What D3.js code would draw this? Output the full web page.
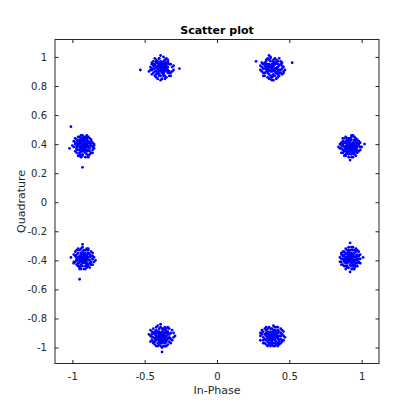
<!DOCTYPE html>
<html><head><meta charset="utf-8">
<script src="https://cdn.jsdelivr.net/npm/d3@7/dist/d3.min.js"></script>
<style>body{margin:0;background:#fff}svg{display:block}text{font-family:"DejaVu Sans",sans-serif}</style>
</head><body><svg id="c" width="420" height="420"></svg>
<script>
// Symbol clusters (x, y)
const clusterA = [[.38,.95],[.36,.91],[.41,.92],[.33,.94],[.39,.88],[.42,.93],[.37,.97],[.35,.90],[.44,.91],[.40,.95],[.34,.92],[.38,.86],[.39,.94],[.31,.96],[.41,.89],[.36,.93],[.43,.91],[.37,.99],[.40,.90],[.35,.92],[.46,.89],[.38,.94],[.33,.96],[.39,.87],[.36,.93],[.42,.91],[.41,.98],[.32,.92],[.37,.90],[.40,.95],[.38,.84],[.34,.93],[.45,.94],[.36,.88],[.39,.97],[.41,.92],[.35,.91],[.43,.89],[.37,.94],[.27,.97],[.40,.90],[.38,.87],[.42,.93],[.36,.95],[.33,.92],[.39,.98],[.44,.91],[.35,.94],[.41,.89],[.37,.85],[.38,.93],[.40,.96],[.32,.92],[.42,.90],[.36,1.01],[.39,.91],[.34,.95],[.52,.96],[.37,.94],[.41,.92],[.38,.92],[.39,.93],[.37,.91],[.40,.92],[.36,.94],[.38,.90],[.39,.95],[.37,.93],[.35,.89],[.42,.95],
  [.44,.97],[.32,.87],[.45,.88],[.31,.90],[.43,.99],[.34,.98],[.46,.93],[.30,.94],[.42,.86],[.35,.86],[.44,.95],[.33,.89],[.40,.99],[.36,.85],[.47,.91],[.31,.93],[.43,.87],[.34,.97],[.41,.85],[.37,1.00],[.45,.96],[.32,.95],[.39,.84],[.44,.89],[.35,.99],[.42,.97],[.33,.87],[.46,.90],[.30,.91],[.40,.87],[.36,.98],[.43,.94],[.34,.90],[.41,.96],[.37,.87],[.45,.92],[.32,.89],[.39,.96],[.35,.95],[.42,.88]];
const clusterB = [[.93,.36],[.90,.40],[.94,.41],[.89,.35],[.92,.39],[.96,.37],[.91,.33],[.88,.38],[.95,.42],[.92,.36],[.90,.37],[.97,.40],[.93,.43],[.87,.36],[.94,.38],[.91,.41],[.99,.36],[.92,.34],[.89,.42],[.95,.39],[.90,.38],[.93,.31],[.86,.39],[.96,.35],[.92,.44],[.91,.37],[.94,.36],[.88,.41],[.97,.38],[.93,.40],[.90,.34],[.95,.43],[.92,.37],[.84,.38],[.93,.39],[.91,.42],[.96,.41],[.89,.37],[.94,.34],[.92,.40],[.98,.39],[.90,.36],[.93,.46],[.87,.40],[.95,.37],[.91,.35],[.92,.41],[.94,.39],[.89,.33],[.96,.43],[1.00,.38],[.91,.39],[.93,.37],[.88,.36],[.95,.40],[.92,.29],[.90,.42],[.94,.37],[.91,.38],[.93,.35],[.89,.39],[.96,.38],[.92,.38],[.87,.44],[.93,.38],[.94,.40],[.90,.39],[.92,.42],[.95,.36],[1.02,.40],
  [.97,.43],[.86,.34],[.98,.35],[.87,.42],[.95,.45],[.88,.32],[.99,.41],[.85,.37],[.96,.32],[.89,.45],[.94,.31],[.90,.44],[.97,.34],[.86,.41],[.98,.42],[.88,.35],[.93,.45],[.91,.31],[.99,.38],[.85,.40],[.96,.44],[.89,.32],[.94,.46],[.87,.34],[.97,.36],[.90,.43],[.95,.33],[.88,.44],[.98,.40],[.86,.37],[.93,.33],[.91,.44],[.96,.39],[.89,.41],[.94,.35],[.92,.43],[.97,.41],[.87,.39],[.95,.34],[.90,.35]];
const clusterC = [[.91,-.37],[.94,-.39],[.89,-.40],[.93,-.35],[.96,-.38],[.90,-.42],[.92,-.36],[.95,-.41],[.88,-.37],[.93,-.39],[.91,-.34],[.97,-.37],[.94,-.43],[.90,-.38],[.92,-.40],[.86,-.36],[.95,-.35],[.93,-.38],[.89,-.44],[.96,-.40],[.91,-.39],[.94,-.33],[.92,-.37],[.88,-.41],[.97,-.42],[.90,-.36],[.93,-.41],[.95,-.38],[.91,-.31],[.92,-.43],[.99,-.39],[.89,-.38],[.94,-.36],[.90,-.40],[.93,-.46],[.87,-.39],[.96,-.37],[.92,-.35],[.91,-.41],[.95,-.43],[.88,-.34],[.93,-.37],[.90,-.39],[.94,-.40],[.92,-.28],[.97,-.36],[.89,-.42],[.93,-.39],[.91,-.36],[.95,-.40],[.92,-.38],[.86,-.41],[.94,-.38],[.90,-.35],[.93,-.42],[.98,-.39],[.91,-.38],[.92,-.41],[.95,-.37],[.89,-.39],[.93,-.36],[.90,-.44],[.94,-.41],[.92,-.39],[.88,-.39],[.96,-.34],[.91,-.40],[1.01,-.38],[.93,-.33],[.92,-.48],
  [.97,-.33],[.86,-.43],[.98,-.41],[.87,-.34],[.95,-.45],[.88,-.44],[.99,-.36],[.85,-.38],[.96,-.44],[.89,-.32],[.94,-.46],[.90,-.33],[.97,-.44],[.86,-.35],[.98,-.34],[.88,-.40],[.93,-.31],[.91,-.45],[.99,-.42],[.85,-.41],[.96,-.32],[.89,-.46],[.94,-.31],[.87,-.43],[.97,-.40],[.90,-.45],[.95,-.33],[.88,-.36],[.98,-.37],[.86,-.39],[.93,-.44],[.91,-.33],[.96,-.42],[.89,-.35],[.94,-.44],[.92,-.33],[.97,-.39],[.87,-.37],[.95,-.46],[.90,-.41]];
const clusterD = [[.39,-.91],[.36,-.94],[.40,-.89],[.37,-.95],[.42,-.92],[.35,-.90],[.38,-.96],[.41,-.93],[.34,-.92],[.39,-.88],[.37,-.93],[.43,-.95],[.36,-.91],[.40,-.97],[.38,-.90],[.32,-.93],[.41,-.91],[.39,-.94],[.35,-.96],[.44,-.90],[.37,-.92],[.40,-.86],[.38,-.95],[.33,-.91],[.42,-.94],[.36,-.98],[.39,-.92],[.41,-.89],[.37,-.94],[.34,-.88],[.40,-.93],[.38,-.91],[.45,-.96],[.36,-.93],[.39,-.99],[.42,-.90],[.35,-.94],[.38,-.92],[.40,-.95],[.30,-.92],[.37,-.89],[.41,-.96],[.39,-.90],[.36,-.95],[.43,-.92],[.38,-.87],[.34,-.95],[.40,-.91],[.37,-.97],[.42,-.93],[.39,-.94],[.35,-.91],[.38,-.93],[.46,-.92],[.36,-.90],[.40,-.94],[.37,-.92],[.33,-.97],[.41,-.91],[.38,-.98],[.39,-.93],[.36,-.92],[.44,-.94],[.37,-.90],[.40,-.92],[.35,-.93],[.38,-.94],[.42,-.97],[.39,-.89],[.31,-.90],
  [.44,-.87],[.32,-.97],[.45,-.95],[.31,-.88],[.43,-.98],[.34,-.86],[.46,-.89],[.30,-.95],[.42,-.86],[.35,-.99],[.44,-.97],[.33,-.87],[.40,-.99],[.36,-.86],[.47,-.93],[.31,-.91],[.43,-.89],[.34,-.98],[.41,-.86],[.37,-.99],[.45,-.91],[.32,-.89],[.39,-.85],[.44,-.92],[.35,-.87],[.42,-.99],[.33,-.94],[.46,-.95],[.30,-.90],[.40,-.88],[.36,-.97],[.43,-.96],[.34,-.90],[.41,-.98],[.37,-.87],[.45,-.88],[.32,-.95],[.39,-.97],[.35,-.89],[.42,-.88]];
const clusterE = [[-.37,-.93],[-.40,-.90],[-.36,-.95],[-.39,-.92],[-.35,-.89],[-.41,-.94],[-.38,-.97],[-.34,-.91],[-.42,-.92],[-.37,-.88],[-.39,-.95],[-.33,-.93],[-.40,-.96],[-.36,-.90],[-.43,-.91],[-.38,-.93],[-.35,-.96],[-.41,-.89],[-.37,-.94],[-.39,-.99],[-.44,-.93],[-.36,-.92],[-.38,-.87],[-.32,-.94],[-.40,-.91],[-.37,-.96],[-.42,-.95],[-.35,-.92],[-.39,-.90],[-.38,-.94],[-.46,-.92],[-.36,-.97],[-.40,-.93],[-.34,-.89],[-.38,-.91],[-.41,-.97],[-.37,-.92],[-.43,-.94],[-.39,-.86],[-.36,-.94],[-.38,-1.00],[-.40,-.92],[-.35,-.90],[-.42,-.93],[-.37,-.95],[-.39,-.91],[-.33,-.96],[-.41,-.92],[-.38,-.89],[-.36,-.93],[-.40,-.98],[-.37,-.90],[-.44,-.96],[-.39,-.94],[-.35,-.93],[-.38,-.92],[-.41,-.90],[-.36,-.99],[-.38,-.95],[-.29,-.92],[-.40,-.89],[-.37,-.91],[-.39,-.96],[-.42,-.90],[-.36,-.88],[-.38,-.96],[-.45,-.89],[-.34,-.94],[-.40,-.94],[-.38,-1.03],
  [-.44,-.87],[-.32,-.97],[-.45,-.95],[-.31,-.88],[-.43,-.98],[-.34,-.86],[-.46,-.96],[-.30,-.93],[-.42,-.86],[-.35,-.99],[-.44,-.90],[-.33,-.87],[-.40,-.87],[-.36,-.99],[-.47,-.91],[-.31,-.95],[-.43,-.89],[-.34,-.98],[-.41,-.85],[-.37,-.99],[-.45,-.93],[-.32,-.90],[-.39,-.84],[-.44,-.97],[-.35,-.87],[-.42,-.99],[-.33,-.91],[-.46,-.88],[-.30,-.90],[-.40,-.95],[-.36,-.86],[-.43,-.96],[-.34,-.90],[-.41,-.99],[-.37,-.87],[-.45,-.91],[-.32,-.94],[-.39,-.97],[-.35,-.95],[-.42,-.88]];
const clusterF = [[-.93,-.37],[-.90,-.39],[-.94,-.36],[-.91,-.41],[-.95,-.38],[-.89,-.35],[-.92,-.40],[-.96,-.42],[-.88,-.38],[-.93,-.34],[-.91,-.37],[-.97,-.39],[-.90,-.43],[-.94,-.40],[-.92,-.36],[-.86,-.39],[-.95,-.41],[-.93,-.38],[-.89,-.33],[-.91,-.42],[-.98,-.37],[-.92,-.39],[-.94,-.44],[-.90,-.36],[-.93,-.40],[-.87,-.41],[-.96,-.35],[-.91,-.38],[-.94,-.37],[-.92,-.46],[-.89,-.40],[-.95,-.39],[-.93,-.42],[-.90,-.32],[-.97,-.38],[-.92,-.37],[-.88,-.42],[-.94,-.39],[-.91,-.35],[-.99,-.41],[-.93,-.36],[-.90,-.40],[-.95,-.44],[-.92,-.38],[-.86,-.37],[-.94,-.41],[-.91,-.39],[-.93,-.29],[-.96,-.38],[-.89,-.43],[-.92,-.41],[-.94,-.35],[-.90,-.38],[-.93,-.39],[-.88,-.36],[-.95,-.37],[-.91,-.44],[-.97,-.40],[-.92,-.35],[-.93,-.41],[-.90,-.37],[-.94,-.38],[-1.01,-.38],[-.91,-.40],[-.95,-.53],[-.89,-.38],[-.95,-.40],[-.93,-.37],[-.84,-.40],[-.92,-.39],
  [-.97,-.33],[-.86,-.43],[-.98,-.41],[-.87,-.34],[-.95,-.45],[-.88,-.45],[-.99,-.36],[-.85,-.38],[-.96,-.44],[-.89,-.32],[-.94,-.46],[-.90,-.33],[-.97,-.43],[-.86,-.35],[-.98,-.34],[-.88,-.40],[-.93,-.31],[-.91,-.46],[-.99,-.42],[-.85,-.41],[-.96,-.32],[-.89,-.44],[-.94,-.32],[-.87,-.43],[-.97,-.40],[-.90,-.45],[-.95,-.33],[-.88,-.36],[-.98,-.37],[-.86,-.39],[-.93,-.44],[-.91,-.33],[-.96,-.42],[-.89,-.35],[-.94,-.43],[-.92,-.33],[-.97,-.36],[-.87,-.37],[-.95,-.46],[-.90,-.42]];
const clusterG = [[-.91,.39],[-.94,.37],[-.90,.41],[-.93,.35],[-.89,.38],[-.95,.40],[-.92,.43],[-.96,.36],[-.88,.39],[-.93,.42],[-.91,.34],[-.97,.38],[-.90,.36],[-.94,.44],[-.92,.37],[-.87,.40],[-.95,.33],[-.93,.39],[-.89,.42],[-.91,.38],[-.98,.41],[-.92,.35],[-.94,.39],[-.90,.46],[-.93,.37],[-.86,.36],[-.96,.40],[-.91,.42],[-.94,.35],[-.92,.40],[-.89,.31],[-.95,.38],[-.93,.44],[-.90,.39],[-.97,.36],[-.92,.41],[-.88,.37],[-.94,.42],[-.91,.36],[-1.00,.39],[-.93,.40],[-.90,.33],[-.95,.43],[-.92,.38],[-.87,.43],[-.94,.37],[-.91,.40],[-.93,.32],[-.96,.42],[-.89,.39],[-.92,.36],[-.94,.41],[-.90,.38],[-.93,.37],[-.88,.41],[-.95,.36],[-.91,.45],[-.97,.39],[-.92,.39],[-.93,.43],[-.90,.40],[-.94,.38],[-1.02,.37],[-.91,.37],[-1.01,.52],[-.93,.24],[-.89,.36],[-.95,.41],[-.85,.39],[-.92,.42],
  [-.97,.43],[-.86,.34],[-.98,.35],[-.87,.42],[-.95,.45],[-.88,.33],[-.99,.42],[-.85,.37],[-.96,.32],[-.89,.45],[-.94,.31],[-.90,.44],[-.97,.34],[-.86,.41],[-.98,.44],[-.88,.35],[-.93,.46],[-.91,.31],[-.99,.38],[-.85,.40],[-.96,.45],[-.89,.32],[-.94,.46],[-.87,.34],[-.97,.37],[-.90,.43],[-.95,.34],[-.88,.44],[-.98,.40],[-.86,.38],[-.93,.33],[-.91,.44],[-.96,.39],[-.89,.41],[-.94,.35],[-.92,.45],[-.97,.41],[-.87,.39],[-.95,.32],[-.90,.35]];
const clusterH = [[-.39,.91],[-.36,.93],[-.40,.95],[-.37,.89],[-.41,.92],[-.35,.94],[-.38,.90],[-.42,.96],[-.34,.91],[-.39,.93],[-.37,.97],[-.43,.90],[-.36,.92],[-.40,.88],[-.38,.94],[-.33,.95],[-.41,.91],[-.39,.87],[-.35,.93],[-.44,.94],[-.37,.91],[-.40,.99],[-.38,.92],[-.34,.89],[-.42,.93],[-.36,.96],[-.39,.90],[-.41,.94],[-.37,.93],[-.45,.91],[-.38,.85],[-.35,.91],[-.40,.93],[-.36,.98],[-.43,.92],[-.38,.96],[-.33,.90],[-.39,.92],[-.41,.89],[-.37,.95],[-.40,.91],[-.35,.96],[-.42,.90],[-.38,.93],[-.36,.87],[-.44,.92],[-.39,.95],[-.37,.92],[-.41,.97],[-.34,.93],[-.38,.91],[-.40,.94],[-.36,.90],[-.39,1.01],[-.43,.95],[-.37,.94],[-.38,.89],[-.35,.92],[-.41,.93],[-.39,.96],[-.38,.91],[-.36,.95],[-.40,.90],[-.53,.91],[-.26,.92],[-.42,.98],[-.37,.88],[-.39,.94],[-.34,.96],[-.45,.95],
  [-.44,.97],[-.32,.87],[-.45,.88],[-.31,.90],[-.43,.99],[-.34,.98],[-.46,.93],[-.30,.94],[-.42,.86],[-.35,.86],[-.44,.95],[-.33,.89],[-.40,.99],[-.36,.85],[-.47,.90],[-.31,.93],[-.43,.87],[-.34,.97],[-.41,.85],[-.37,1.00],[-.45,.96],[-.32,.95],[-.39,.84],[-.44,.89],[-.35,.99],[-.42,.97],[-.33,.87],[-.46,.91],[-.30,.91],[-.40,.87],[-.36,.98],[-.43,.94],[-.34,.90],[-.41,.96],[-.37,.87],[-.45,.92],[-.32,.89],[-.39,.97],[-.35,.95],[-.42,.88]];
const xTicks = [-1, -0.5, 0, 0.5, 1];
const yTicks = [-1, -0.8, -0.6, -0.4, -0.2, 0, 0.2, 0.4, 0.6, 0.8, 1];
const xDomain = [-1.12, 1.12];
const yDomain = [-1.11, 1.12];

const allPoints = [].concat(clusterA, clusterB, clusterC, clusterD, clusterE, clusterF, clusterG, clusterH);
const svg = d3.select("#c");
const L = 55, R = 379, T = 39.5, B = 363.5;
const x = d3.scaleLinear().domain(xDomain).range([L, R]);
const y = d3.scaleLinear().domain(yDomain).range([B, T]);
const axCol = "#262626";
const fmt = d => String(+d.toFixed(1));

svg.append("rect").attr("x", L).attr("y", T).attr("width", R - L).attr("height", B - T).attr("fill", "#fff");

function styleAxis(g) {
  g.select(".domain").remove();
  g.selectAll(".tick line").attr("stroke", axCol);
  g.selectAll(".tick text").attr("fill", axCol).attr("font-size", 10).attr("font-family", "DejaVu Sans, sans-serif");
}
svg.append("g").attr("transform", `translate(0,${B})`)
  .call(d3.axisBottom(x).tickValues(xTicks).tickFormat(fmt).tickSizeInner(-3.5).tickSizeOuter(0).tickPadding(9))
  .call(styleAxis);
svg.append("g").attr("transform", `translate(0,${T})`)
  .call(d3.axisTop(x).tickValues(xTicks).tickFormat("").tickSizeInner(-3.5).tickSizeOuter(0))
  .call(styleAxis);
svg.append("g").attr("transform", `translate(${L},0)`)
  .call(d3.axisLeft(y).tickValues(yTicks).tickFormat(fmt).tickSizeInner(-3.5).tickSizeOuter(0).tickPadding(8))
  .call(styleAxis);
svg.append("g").attr("transform", `translate(${R},0)`)
  .call(d3.axisRight(y).tickValues(yTicks).tickFormat("").tickSizeInner(-3.5).tickSizeOuter(0))
  .call(styleAxis);

svg.append("g").selectAll("circle").data(allPoints).join("circle")
  .attr("cx", d => x(d[0])).attr("cy", d => y(d[1])).attr("r", 1.4).attr("fill", "#0000ff");

svg.append("rect").attr("x", L).attr("y", T).attr("width", R - L).attr("height", B - T)
  .attr("fill", "none").attr("stroke", axCol).attr("stroke-width", 1);

svg.append("text").attr("x", (L + R) / 2).attr("y", 33.5).attr("text-anchor", "middle")
  .attr("font-size", 11).attr("font-weight", "bold").attr("fill", "#000").text("Scatter plot");
svg.append("text").attr("x", (L + R) / 2).attr("y", 393.5).attr("text-anchor", "middle")
  .attr("font-size", 11).attr("fill", axCol).text("In-Phase");
svg.append("text").attr("transform", `translate(25,${(T + B) / 2}) rotate(-90)`).attr("text-anchor", "middle")
  .attr("font-size", 11).attr("fill", axCol).text("Quadrature");
</script></body></html>
